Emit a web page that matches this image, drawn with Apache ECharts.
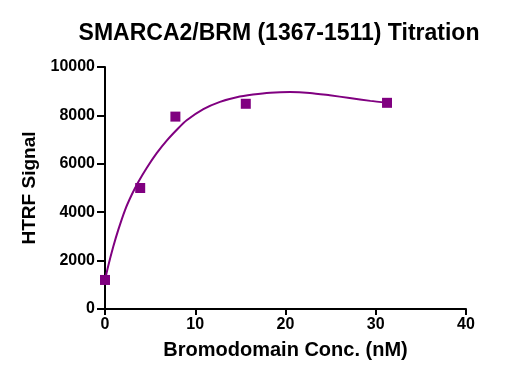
<!DOCTYPE html>
<html>
<head>
<meta charset="utf-8">
<script src="https://cdn.jsdelivr.net/npm/echarts@6/dist/echarts.min.js"></script>
<style>html,body{margin:0;padding:0;background:#fff;}#c{width:523px;height:384px;}</style>
</head>
<body>
<div id="c"></div>
<script>
var titleText = 'SMARCA2/BRM (1367-1511) Titration';
var xName = 'Bromodomain Conc. (nM)';
var yName = 'HTRF Signal';
var pointX = [0, 3.9, 7.8, 15.6, 31.25];
var pointY = [1200, 5000, 7950, 8480, 8520];
var curveX = [0, 0.37, 0.92, 1.47, 2.22, 2.96, 3.69, 4.62, 5.73, 6.84, 8.12, 9.05, 10.9, 12.74, 14.6, 16.4, 18.3, 20.5, 22.7, 24.9, 27.1, 29.4, 31.25];
var curveY = [1200, 1800, 2580, 3270, 4090, 4720, 5250, 5830, 6440, 6960, 7470, 7800, 8260, 8560, 8750, 8860, 8940, 8970, 8930, 8830, 8720, 8600, 8520];

var purple = '#800080';
var font = 'Liberation Sans, Arial, sans-serif';
var chart = echarts.init(document.getElementById('c'), null, {renderer: 'canvas'});
chart.setOption({
  animation: false,
  backgroundColor: '#fff',
  title: {
    text: titleText, left: 274, top: 17, textAlign: 'center',
    textStyle: {fontFamily: font, fontWeight: 'bold', fontSize: 23, color: '#000'}
  },
  grid: {left: 105, right: 57, top: 67, bottom: 75},
  xAxis: {
    type: 'value', min: 0, max: 40, interval: 10,
    name: xName, nameLocation: 'middle', nameGap: 31,
    nameTextStyle: {fontFamily: font, fontWeight: 'bold', fontSize: 20, color: '#000'},
    axisLine: {show: true, lineStyle: {color: '#000', width: 2}},
    axisTick: {show: true, length: 6, lineStyle: {color: '#000', width: 2}},
    axisLabel: {fontFamily: font, fontWeight: 'bold', fontSize: 16, color: '#000', margin: 8},
    splitLine: {show: false}
  },
  yAxis: {
    type: 'value', min: 0, max: 10000, interval: 2000,
    name: yName, nameLocation: 'middle', nameGap: 64,
    nameTextStyle: {fontFamily: font, fontWeight: 'bold', fontSize: 19, color: '#000'},
    axisLine: {show: true, lineStyle: {color: '#000', width: 2}},
    axisTick: {show: true, length: 8, lineStyle: {color: '#000', width: 2}},
    axisLabel: {fontFamily: font, fontWeight: 'bold', fontSize: 16, color: '#000', margin: 10,
      formatter: function (v) { return String(v); }},
    splitLine: {show: false}
  },
  series: [
    {
      type: 'line', data: curveX.map(function (x, i) { return [x, curveY[i]]; }),
      smooth: 0.25, showSymbol: false, symbol: 'none',
      lineStyle: {color: purple, width: 2}, z: 2
    },
    {
      type: 'scatter', data: pointX.map(function (x, i) { return [x, pointY[i]]; }),
      symbol: 'rect', symbolSize: 10, itemStyle: {color: purple, opacity: 1}, z: 3
    }
  ]
});
</script>
</body>
</html>
